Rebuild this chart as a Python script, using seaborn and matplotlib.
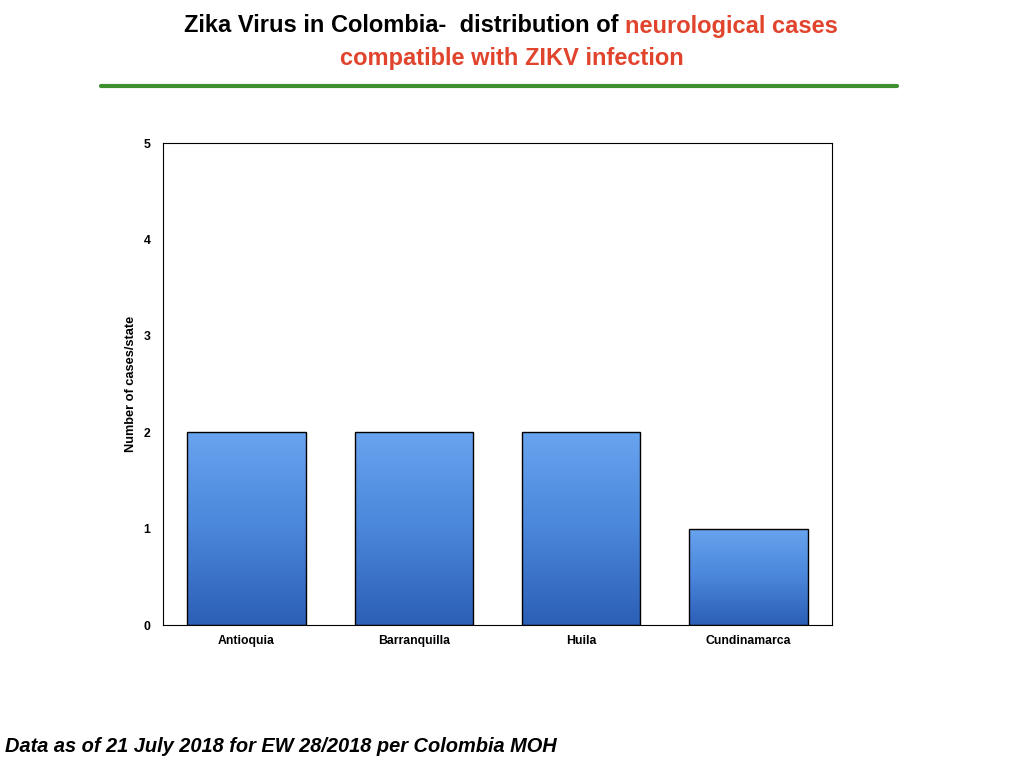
import numpy as np
import pandas as pd
import matplotlib.pyplot as plt
import seaborn as sns
from matplotlib.colors import LinearSegmentedColormap

states = ['Antioquia', 'Barranquilla', 'Huila', 'Cundinamarca']
cases = [2, 2, 2, 1]
df = pd.DataFrame({'state': states, 'cases': cases})

sns.set_style('white')
plt.rcParams['font.family'] = ['Liberation Sans', 'DejaVu Sans']
plt.rcParams['text.color'] = 'black'
plt.rcParams['xtick.color'] = 'black'
plt.rcParams['ytick.color'] = 'black'
plt.rcParams['axes.labelcolor'] = 'black'

fig = plt.figure(figsize=(10.24, 7.68), dpi=100)
ax = fig.add_axes([163 / 1024, 1 - 625 / 768, 669 / 1024, 482 / 768])

sns.barplot(data=df, x='state', y='cases', color='#4a86dc', width=0.71,
            edgecolor='black', linewidth=1, ax=ax)

# gradient fill clipped to each bar
grad = LinearSegmentedColormap.from_list('g', ['#2c5fb6', '#4a86da', '#68a4ef'])
img = np.linspace(0, 1, 256).reshape(-1, 1)
for p in ax.patches:
    x0, y0 = p.get_x(), p.get_y()
    w, h = p.get_width(), p.get_height()
    im = ax.imshow(img, cmap=grad, origin='lower', aspect='auto',
                   extent=[x0, x0 + w, y0, y0 + h], zorder=p.get_zorder() + 0.1)
    im.set_clip_path(p)
    p.set_facecolor('none')
    p.set_zorder(p.get_zorder() + 0.2)

ax.set_xlim(-0.5, 3.5)
ax.set_ylim(0, 5)
ax.set_yticks(range(6))
ax.tick_params(axis='x', length=0, labelsize=8.8, pad=7)
ax.tick_params(axis='y', length=0, labelsize=8.8, pad=9)
for t in ax.get_xticklabels() + ax.get_yticklabels():
    t.set_fontweight('bold')
ax.set_xlabel('')
ax.set_ylabel('Number of cases/state', fontsize=9.2, fontweight='bold', labelpad=5)
for s in ax.spines.values():
    s.set_color('black')
    s.set_linewidth(0.8)

# two-colour first title line, centred as a whole
y1 = 1 - 26 / 768
t1 = fig.text(0, y1, 'Zika Virus in Colombia-  distribution of ', ha='left', va='center',
              fontsize=17, fontweight='bold', color='black')
t2 = fig.text(0, y1, 'neurological cases', ha='left', va='center',
              fontsize=17, fontweight='bold', color='#e0442c')
r = fig.canvas.get_renderer()
w1 = t1.get_window_extent(r).width / 1024
w2 = t2.get_window_extent(r).width / 1024
start = 511 / 1024 - (w1 + w2) / 2
t1.set_x(start)
t2.set_x(start + w1)
fig.text(512 / 1024, 1 - 59 / 768, 'compatible with ZIKV infection', ha='center', va='center',
         fontsize=17, fontweight='bold', color='#e0442c')
fig.add_artist(plt.Line2D([101 / 1024, 897 / 1024], [1 - 86 / 768, 1 - 86 / 768],
                          color='#3d8f2f', linewidth=3))

fig.text(5 / 1024, 1 - 746 / 768, 'Data as of 21 July 2018 for EW 28/2018 per Colombia MOH',
         ha='left', va='center', fontsize=14.4, fontweight='bold', style='italic', color='black')

fig.savefig('out.png', dpi=100)
